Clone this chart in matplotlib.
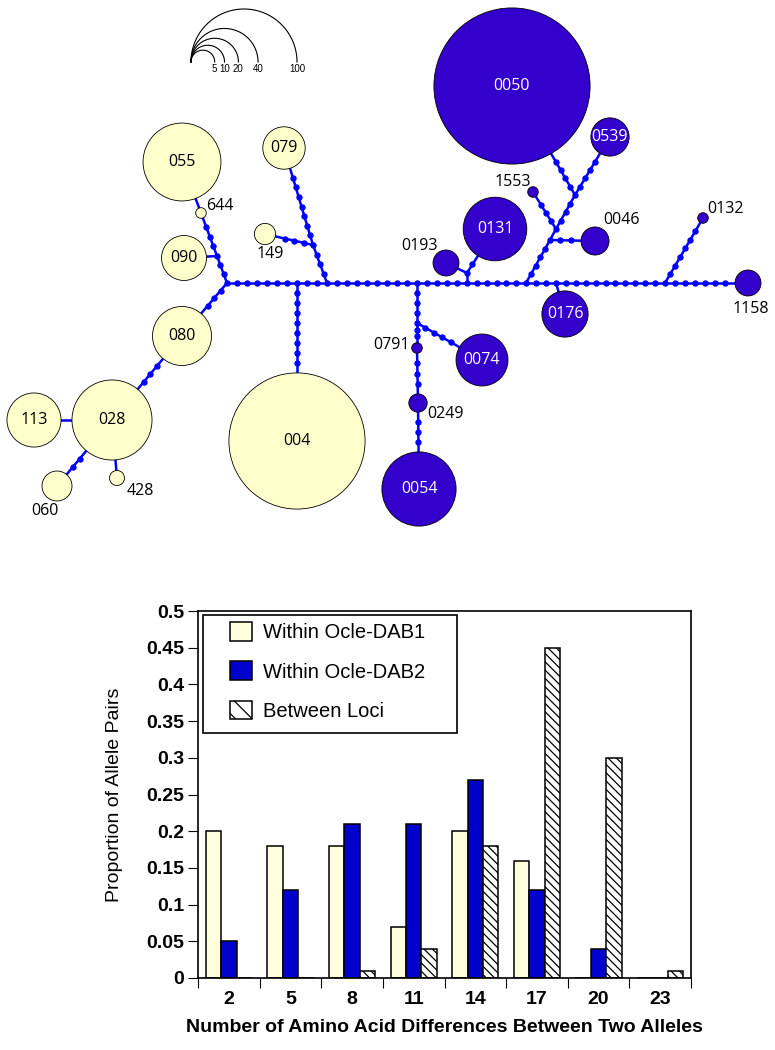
import numpy as np
import matplotlib
matplotlib.use('Agg')
import matplotlib.pyplot as plt
from matplotlib.patches import Circle, Rectangle, Patch

# ---------------- network data ----------------
# alleles: name, locus (1 = Ocle-DAB1, 2 = Ocle-DAB2), count, layout position (px)
allele_names = ['055', '079', '644', '149', '090', '080', '028', '113', '060', '428', '004',
                '0050', '0539', '1553', '0131', '0193', '0046', '0132', '1158', '0176',
                '0074', '0791', '0249', '0054']
allele_locus = [1] * 11 + [2] * 13
allele_count = [54, 16, 1, 4, 18, 31, 57, 26, 8, 2, 165,
                217, 13, 1, 36, 6, 7, 1, 6, 19, 24, 1, 3, 49]
allele_x = [182, 284, 201, 265, 184, 182, 112, 34, 57, 117, 297,
            512, 610, 533, 495, 446, 595, 703, 748, 565, 482, 417, 418, 419]
allele_y = [162, 148, 213, 234, 258, 336, 420, 420, 486, 478, 441,
            86, 137, 192, 229, 263, 241, 218, 283, 314, 360, 348, 403, 489]

# median vectors (unlabelled junctions)
junction_names = ['J0', 'J1', 'J2', 'J3', 'J4', 'J5', 'J6', 'J7', 'J8', 'J9',
                  'J10', 'J11', 'J12', 'J13', 'J14']
junction_x = [227, 297, 327, 313, 217, 417, 417, 467, 467, 526, 550, 556, 575, 556, 665]
junction_y = [283, 283, 283, 245, 256, 283, 323, 283, 273, 283, 240, 229, 195, 283, 283]

# links: (from, to, number of mutational steps)
links = [
    ('J0', 'J1', 7), ('J1', 'J2', 3), ('J2', 'J5', 9), ('J5', 'J7', 5), ('J7', 'J9', 6),
    ('J9', 'J13', 3), ('J13', 'J14', 11), ('J14', '1158', 7),
    ('J1', '004', 9), ('J2', 'J3', 4), ('J3', '079', 8), ('J3', '149', 4),
    ('J0', 'J4', 3), ('J4', '644', 4), ('644', '055', 1), ('J4', '090', 1),
    ('J0', '080', 4), ('080', '028', 4), ('028', '113', 1), ('028', '060', 3), ('028', '428', 1),
    ('J5', 'J6', 4), ('J6', '0791', 3), ('J6', '0074', 5), ('0791', '0249', 4), ('0249', '0054', 4),
    ('J7', 'J8', 1), ('J8', '0193', 1), ('J8', '0131', 2),
    ('J9', 'J10', 5), ('J10', '0046', 3), ('J10', 'J11', 1), ('J11', '1553', 4),
    ('J11', 'J12', 4), ('J12', '0050', 5), ('J12', '0539', 5),
    ('J13', '0176', 1), ('J14', '0132', 7),
]

scale_counts = [5, 10, 20, 40, 100]

# ---------------- bar chart data ----------------
diff_labels = ['2', '5', '8', '11', '14', '17', '20', '23']
within_dab1 = [0.20, 0.18, 0.18, 0.07, 0.20, 0.16, 0.0, 0.0]
within_dab2 = [0.05, 0.12, 0.21, 0.21, 0.27, 0.12, 0.04, 0.0]
between_loci = [0.0, 0.0, 0.01, 0.04, 0.18, 0.45, 0.30, 0.01]

NODE_YELLOW = '#FFFFCC'
NODE_BLUE = '#3300CC'
LINK_BLUE = '#0000FF'
BAR_YELLOW = '#FFFFDD'
BAR_BLUE = '#0000CC'

W, H = 775, 1050
fig = plt.figure(figsize=(W / 100, H / 100), dpi=100)

# network drawn in pixel coordinates
net = fig.add_axes([0, 0, 1, 1])
net.set_xlim(0, W)
net.set_ylim(H, 0)
net.axis('off')


def radius(n):
    return 5.3 * np.sqrt(n)


pos = {}
for name, x, y, n in zip(allele_names, allele_x, allele_y, allele_count):
    pos[name] = (x, y, radius(n))
for name, x, y in zip(junction_names, junction_x, junction_y):
    pos[name] = (x, y, 0.0)

dot_x, dot_y = list(junction_x), list(junction_y)
for a, b, steps in links:
    xa, ya, ra = pos[a]
    xb, yb, rb = pos[b]
    net.plot([xa, xb], [ya, yb], color=LINK_BLUE, lw=1.8, zorder=1,
             solid_capstyle='butt')
    d = np.hypot(xb - xa, yb - ya)
    ux, uy = (xb - xa) / d, (yb - ya) / d
    for k in range(1, steps):
        t = ra + (d - ra - rb) * k / steps
        dot_x.append(xa + ux * t)
        dot_y.append(ya + uy * t)
net.plot(dot_x, dot_y, 'o', ms=4.6, color=LINK_BLUE, mew=0, zorder=2)

outside_labels = {'644': (220, 206), '149': (270, 254), '428': (140, 491),
                  '060': (45, 511), '1553': (513, 182), '0193': (419, 246),
                  '0046': (622, 220), '0132': (726, 209), '1158': (751, 309),
                  '0791': (391, 345), '0249': (445, 414)}

for name, locus in zip(allele_names, allele_locus):
    x, y, r = pos[name]
    fc = NODE_YELLOW if locus == 1 else NODE_BLUE
    net.add_patch(Circle((x, y), r, facecolor=fc, edgecolor='black', lw=0.6, zorder=3))
    if name in outside_labels:
        lx, ly = outside_labels[name]
        net.text(lx, ly, name, ha='center', va='center', fontsize=11.5,
                 family='Open Sans', color='black', zorder=4)
    else:
        net.text(x, y, name, ha='center', va='center', fontsize=11.5,
                 family='Open Sans', color='black' if locus == 1 else 'white', zorder=4)

# size scale (nested semicircles)
sx0, sy0 = 191, 62
t = np.linspace(0, np.pi, 120)
for n in scale_counts:
    r = radius(n)
    net.plot(sx0 + r + r * np.cos(t), sy0 - r * np.sin(t), color='black', lw=0.8)
    net.text(sx0 + 2 * r, sy0 + 2, str(n), ha='center', va='top', fontsize=7,
             family='Liberation Sans')

# ---------------- bar chart ----------------
left, right, top, bottom = 198, 691, 611, 978
ax = fig.add_axes([left / W, (H - bottom) / H, (right - left) / W, (bottom - top) / H])
x = np.arange(len(diff_labels))
w = 0.25
plt.rcParams['hatch.linewidth'] = 0.9
ax.bar(x - w, within_dab1, w, color=BAR_YELLOW, edgecolor='black', lw=1.1, label='Within Ocle-DAB1')
ax.bar(x, within_dab2, w, color=BAR_BLUE, edgecolor='black', lw=1.1, label='Within Ocle-DAB2')
ax.bar(x + w, between_loci, w, color='white', edgecolor='black', lw=1.1, hatch='\\\\\\\\',
       label='Between Loci')

ax.set_xlim(-0.5, len(diff_labels) - 0.5)
ax.set_ylim(0, 0.5)
yt = np.round(np.arange(0, 0.501, 0.05), 2)
ax.set_yticks(yt)
ax.set_yticklabels([f'{v:g}' for v in yt])
ax.set_xticks(x)
ax.set_xticklabels(diff_labels)
ax.set_xticks(np.arange(-0.5, len(diff_labels)), minor=True)
ax.tick_params(axis='x', which='major', length=0, pad=9)
ax.tick_params(axis='x', which='minor', length=7, width=0.8, direction='out')
ax.tick_params(axis='y', length=7, width=0.8, direction='out', pad=3)
for lab in ax.get_xticklabels() + ax.get_yticklabels():
    lab.set_family('Liberation Sans')
    lab.set_fontweight('bold')
    lab.set_fontsize(14)
for sp in ax.spines.values():
    sp.set_linewidth(1.2)

ax.set_ylabel('Proportion of Allele Pairs', family='Liberation Sans', fontsize=14)
ax.yaxis.set_label_coords((123 - left) / (right - left), 0.5)
ax.set_xlabel('Number of Amino Acid Differences Between Two Alleles',
              family='Liberation Sans', fontsize=14, fontweight='bold')
ax.xaxis.set_label_coords(0.5, (bottom - 1019) / (bottom - top))


def ax_frac(px, py):
    return (px - left) / (right - left), (bottom - py) / (bottom - top)


x0, y1 = ax_frac(203, 733)
x1, y0 = ax_frac(457, 615)
ax.add_patch(Rectangle((x0, y1), x1 - x0, y0 - y1, transform=ax.transAxes,
                       facecolor='white', edgecolor='black', lw=1.2, zorder=5))
handles = [Patch(facecolor=BAR_YELLOW, edgecolor='black', lw=1.1),
           Patch(facecolor=BAR_BLUE, edgecolor='black', lw=1.1),
           Patch(facecolor='white', edgecolor='black', lw=1.1, hatch='\\\\')]
leg = ax.legend(handles, ['Within Ocle-DAB1', 'Within Ocle-DAB2', 'Between Loci'],
                loc='upper left', bbox_to_anchor=ax_frac(230, 622), frameon=False,
                borderpad=0, borderaxespad=0, handlelength=1.1, handleheight=1.05,
                handletextpad=0.55, labelspacing=0.95,
                prop={'family': 'Liberation Sans', 'size': 14.5})
leg.set_zorder(6)

fig.savefig('out.png', dpi=100)
